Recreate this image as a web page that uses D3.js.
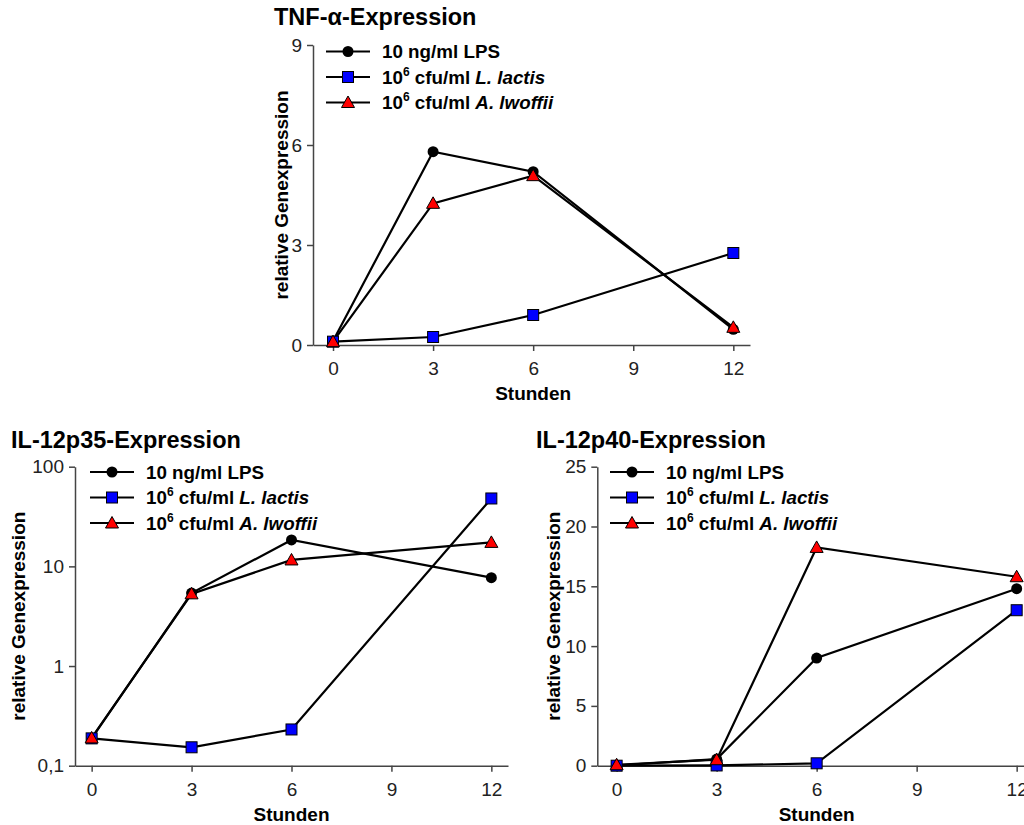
<!DOCTYPE html>
<html><head><meta charset="utf-8">
<script src="https://cdn.jsdelivr.net/npm/d3@7"></script>
<style>body{margin:0;background:#fff}svg{display:block}</style>
</head><body>
<svg id="c" width="1024" height="825"></svg>
<script>
const hours = [0, 3, 6, 12];
const xTicks = [0, 3, 6, 9, 12];
const seriesNames = ["LPS", "L. lactis", "A. lwoffii"];

// TNF-alpha
const tnfLPS = [0.12, 5.8, 5.2, 0.47];
const tnfLactis = [0.1, 0.24, 0.9, 2.76];
const tnfLwoffii = [0.1, 4.25, 5.08, 0.53];
const tnfTicks = [0, 3, 6, 9];

// IL-12p35 (log)
const p35LPS = [0.188, 5.4, 18.4, 7.7];
const p35Lactis = [0.188, 0.153, 0.231, 48];
const p35Lwoffii = [0.19, 5.3, 11.6, 17.4];
const p35Ticks = [0.1, 1, 10, 100];
const p35TickLabels = ["0,1", "1", "10", "100"];

// IL-12p40
const p40LPS = [0.02, 0.55, 9.0, 14.8];
const p40Lactis = [0.0, 0.02, 0.2, 13.0];
const p40Lwoffii = [0.08, 0.5, 18.25, 15.8];
const p40Ticks = [0, 5, 10, 15, 20, 25];

const svg = d3.select("#c");
const FONT = "Arial, 'Liberation Sans', sans-serif";

function drawChart(cfg) {
  const g = svg.append("g");
  const x = d3.scaleLinear().domain(cfg.xDomain).range([cfg.left, cfg.right]);
  const y = cfg.log
    ? d3.scaleLog().domain(cfg.yDomain).range([cfg.bottom, cfg.top])
    : d3.scaleLinear().domain(cfg.yDomain).range([cfg.bottom, cfg.top]);

  const xa = g.append("g").attr("transform", `translate(0,${cfg.bottom})`)
    .call(d3.axisBottom(x).tickValues(xTicks).tickSize(6).tickSizeOuter(0).tickPadding(11));
  const ya = g.append("g").attr("transform", `translate(${cfg.left},0)`)
    .call(d3.axisLeft(y).tickValues(cfg.yTicks).tickSize(6).tickSizeOuter(0).tickPadding(5)
      .tickFormat((d, i) => cfg.yLabels ? cfg.yLabels[i] : d));
  [xa, ya].forEach(a => {
    a.selectAll("path,line").attr("stroke", "#444").attr("stroke-width", 1.5);
    a.selectAll("text").attr("font-family", FONT).attr("font-size", 19).attr("fill", "#222");
  });

  const line = d3.line().x((d, i) => x(hours[i])).y(d => y(d));
  const series = [
    { vals: cfg.data[0], shape: "circle", color: "#000" },
    { vals: cfg.data[1], shape: "square", color: "#0000ff" },
    { vals: cfg.data[2], shape: "triangle", color: "#ff0000" }
  ];
  series.forEach(s => {
    g.append("path").attr("d", line(s.vals)).attr("fill", "none")
      .attr("stroke", "#000").attr("stroke-width", 2.2);
  });
  function marker(sel, shape, color, cx, cy) {
    if (shape === "circle") {
      sel.append("circle").attr("cx", cx).attr("cy", cy).attr("r", 5.5).attr("fill", "#000");
    } else if (shape === "square") {
      sel.append("rect").attr("x", cx - 5.5).attr("y", cy - 5.5).attr("width", 11).attr("height", 11)
        .attr("fill", color).attr("stroke", "#000").attr("stroke-width", 1);
    } else {
      sel.append("path").attr("d", `M${cx},${cy - 6.5}L${cx + 6.5},${cy + 5}L${cx - 6.5},${cy + 5}Z`)
        .attr("fill", color).attr("stroke", "#000").attr("stroke-width", 1);
    }
  }
  series.forEach(s => {
    s.vals.forEach((v, i) => marker(g, s.shape, s.color, x(hours[i]), y(v)));
  });

  const labels = [
    [{ t: "10 ng/ml LPS" }],
    [{ t: "10" }, { t: "6", sup: true }, { t: " cfu/ml ", down: true }, { t: "L. lactis", it: true }],
    [{ t: "10" }, { t: "6", sup: true }, { t: " cfu/ml ", down: true }, { t: "A. lwoffii", it: true }]
  ];
  series.forEach((s, i) => {
    const ly = cfg.legY + i * 25.5;
    g.append("line").attr("x1", cfg.legX).attr("x2", cfg.legX + 44).attr("y1", ly).attr("y2", ly)
      .attr("stroke", "#000").attr("stroke-width", 2.2);
    marker(g, s.shape, s.color, cfg.legX + 22, ly);
    const t = g.append("text").attr("x", cfg.legX + 56).attr("y", ly + 6.5)
      .attr("font-family", FONT).attr("font-size", 18.8).attr("font-weight", "bold");
    labels[i].forEach(p => {
      const ts = t.append("tspan").text(p.t);
      if (p.sup) ts.attr("font-size", 12).attr("dy", -8);
      if (p.it) ts.attr("font-style", "italic");
      if (p.down) ts.attr("dy", 8);
    });
  });

  g.append("text").attr("x", cfg.titleX).attr("y", cfg.titleY).text(cfg.title)
    .attr("font-family", FONT).attr("font-size", 23.5).attr("font-weight", "bold");
  g.append("text").attr("x", (x(0) + x(12)) / 2).attr("y", cfg.bottom + 55).attr("text-anchor", "middle")
    .text("Stunden").attr("font-family", FONT).attr("font-size", 19).attr("font-weight", "bold");
  g.append("text").attr("transform", `translate(${cfg.yLabX},${(cfg.top + cfg.bottom) / 2}) rotate(-90)`)
    .attr("text-anchor", "middle").text("relative Genexpression")
    .attr("font-family", FONT).attr("font-size", 19).attr("font-weight", "bold");
}

drawChart({
  title: "TNF-α-Expression", titleX: 274, titleY: 25,
  left: 313, right: 750, top: 45, bottom: 345,
  xDomain: [-0.6, 12.5], yDomain: [0, 9], yTicks: tnfTicks,
  data: [tnfLPS, tnfLactis, tnfLwoffii],
  legX: 326, legY: 51.5, yLabX: 288
});
drawChart({
  title: "IL-12p35-Expression", titleX: 11, titleY: 448,
  left: 75, right: 508, top: 466.7, bottom: 765.7, log: true,
  xDomain: [-0.5, 12.5], yDomain: [0.1, 100], yTicks: p35Ticks, yLabels: p35TickLabels,
  data: [p35LPS, p35Lactis, p35Lwoffii],
  legX: 90, legY: 472, yLabX: 25
});
drawChart({
  title: "IL-12p40-Expression", titleX: 536, titleY: 448,
  left: 597.3, right: 1040, top: 466.7, bottom: 765.7,
  xDomain: [-0.58, 12.7], yDomain: [0, 25], yTicks: p40Ticks,
  data: [p40LPS, p40Lactis, p40Lwoffii],
  legX: 610, legY: 472, yLabX: 560
});
</script>
</body></html>
